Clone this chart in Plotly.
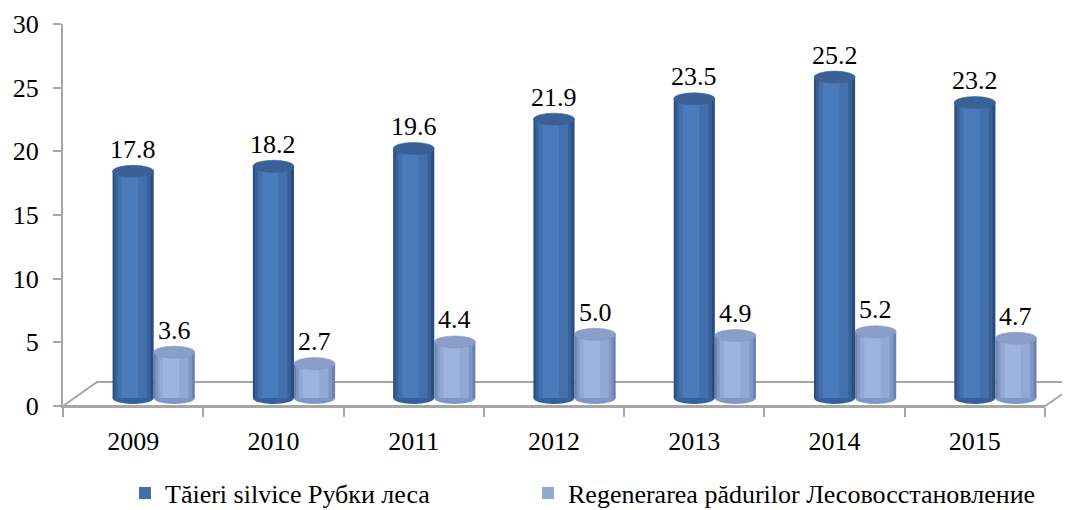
import plotly.graph_objects as go

# ---------------- data ----------------
years = ["2009", "2010", "2011", "2012", "2013", "2014", "2015"]
taieri = [17.8, 18.2, 19.6, 21.9, 23.5, 25.2, 23.2]
regenerare = [3.6, 2.7, 4.4, 5.0, 4.9, 5.2, 4.7]
series_names = ["Tăieri silvice Рубки леса",
                "Regenerarea pădurilor Лесовосстановление"]
y_ticks = [0, 5, 10, 15, 20, 25, 30]

# ---------------- geometry / style ----------------
OFF = 8                          # page body margin of the html page
W, H = 1070 - OFF, 510 - OFF
# plot area in screen pixels
SX0, SX1, SY0, SY1 = 63, 1045, 24, 406
L, R, T, B = SX0 - OFF, W - (SX1 - OFF), SY0 - OFF, H - (SY1 - OFF)
PW, PH = SX1 - SX0, SY1 - SY0
PX_PER_UNIT = PH / 30.0
BASE = 8 / PX_PER_UNIT          # bars stand a little behind the front edge
ELL = 6 / PX_PER_UNIT           # half height of the cylinder ellipses
FONT = "Liberation Serif"
GRAY = "#a6a6a6"
BW = 0.293                      # bar width in category units

styles = [
    dict(left=-BW / 2,
         layers=[(0.0, 1.0, "#2b4d7d"), (0.05, 0.93, "#36609a"),
                 (0.12, 0.84, "#4270ad"), (0.22, 0.62, "#4a7bbb")],
         top="#3a6196", bottom="#36609a", legend="legend", lx=125),
    dict(left=BW / 2,
         layers=[(0.0, 1.0, "#6b82ae"), (0.05, 0.93, "#8096c4"),
                 (0.12, 0.84, "#92a8d5"), (0.22, 0.62, "#9eb3df")],
         top="#8a9ec9", bottom="#8096c4", legend="legend2", lx=528),
]


def px_x(px):
    return (px - SX0) / PW


def px_y(py):
    return (SY1 - py) / PH


fig = go.Figure()
shapes = []
annotations = []

# floor of the 3D plot
floor = (f"M {px_x(63)},{px_y(406)} L {px_x(97)},{px_y(382)} "
         f"L {px_x(1080)},{px_y(382)} L {px_x(1045)},{px_y(406)} Z")
shapes.append(dict(type="path", path=floor, xref="paper", yref="paper",
                   fillcolor="white", line=dict(color=GRAY, width=2),
                   layer="below"))

for s, (vals, name, st) in enumerate(zip([taieri, regenerare], series_names, styles)):
    for k, (f0, f1, col) in enumerate(st["layers"]):
        fig.add_trace(go.Bar(
            x=years, y=vals, base=[BASE] * len(vals),
            offset=st["left"] + f0 * BW, width=(f1 - f0) * BW,
            marker=dict(color=col, line=dict(width=0)),
            name=name, legendgroup=name, showlegend=(k == 2),
            legend=st["legend"], hoverinfo="skip"))
    for i, v in enumerate(vals):
        x0 = i + st["left"]
        x1 = x0 + BW
        # bottom ellipse (only lower half visible below the bar body)
        shapes.append(dict(type="circle", xref="x", yref="y",
                           x0=x0, x1=x1, y0=BASE - ELL, y1=BASE + ELL,
                           fillcolor=st["bottom"], line=dict(width=0),
                           layer="below"))
        # top ellipse
        shapes.append(dict(type="circle", xref="x", yref="y",
                           x0=x0, x1=x1, y0=BASE + v - ELL, y1=BASE + v + ELL,
                           fillcolor=st["top"],
                           line=dict(width=0.6, color=st["layers"][1][2]),
                           layer="above"))
        annotations.append(dict(x=(x0 + x1) / 2, y=BASE + v, xref="x", yref="y",
                                text=f"{v:.1f}", showarrow=False,
                                yanchor="middle", yshift=22,
                                font=dict(family=FONT, size=26, color="black")))

legend_common = dict(orientation="h", xref="container", yref="container",
                     xanchor="left", y=(H - (493 - OFF)) / H, yanchor="middle",
                     font=dict(family=FONT, size=26, color="black"),
                     itemwidth=30, bgcolor="rgba(0,0,0,0)")

fig.update_layout(
    width=W, height=H,
    margin=dict(l=L, r=R, t=T, b=B, pad=0, autoexpand=False),
    font=dict(family=FONT, size=26, color="black"),
    paper_bgcolor="white", plot_bgcolor="rgba(0,0,0,0)",
    barmode="overlay",
    shapes=shapes, annotations=annotations,
    xaxis=dict(type="category", categoryorder="array", categoryarray=years,
               range=[-0.5, len(years) - 0.5], automargin=False,
               showline=True, linecolor=GRAY, linewidth=2,
               ticks="outside", tickson="boundaries", ticklen=9,
               tickcolor=GRAY, tickwidth=2,
               tickfont=dict(family=FONT, size=26, color="black"),
               ticklabelstandoff=11,
               showgrid=False, zeroline=False, fixedrange=True),
    yaxis=dict(range=[0, 30], tickvals=y_ticks, automargin=False,
               showline=True, linecolor=GRAY, linewidth=2,
               ticks="outside", ticklen=8, tickcolor=GRAY, tickwidth=2,
               tickfont=dict(family=FONT, size=26, color="black"),
               ticklabelstandoff=9,
               showgrid=False, zeroline=False, fixedrange=True),
    legend=dict(legend_common, x=(styles[0]["lx"] - OFF) / W),
    legend2=dict(legend_common, x=(styles[1]["lx"] - OFF) / W),
    showlegend=True,
)

fig.write_html("out.html")
